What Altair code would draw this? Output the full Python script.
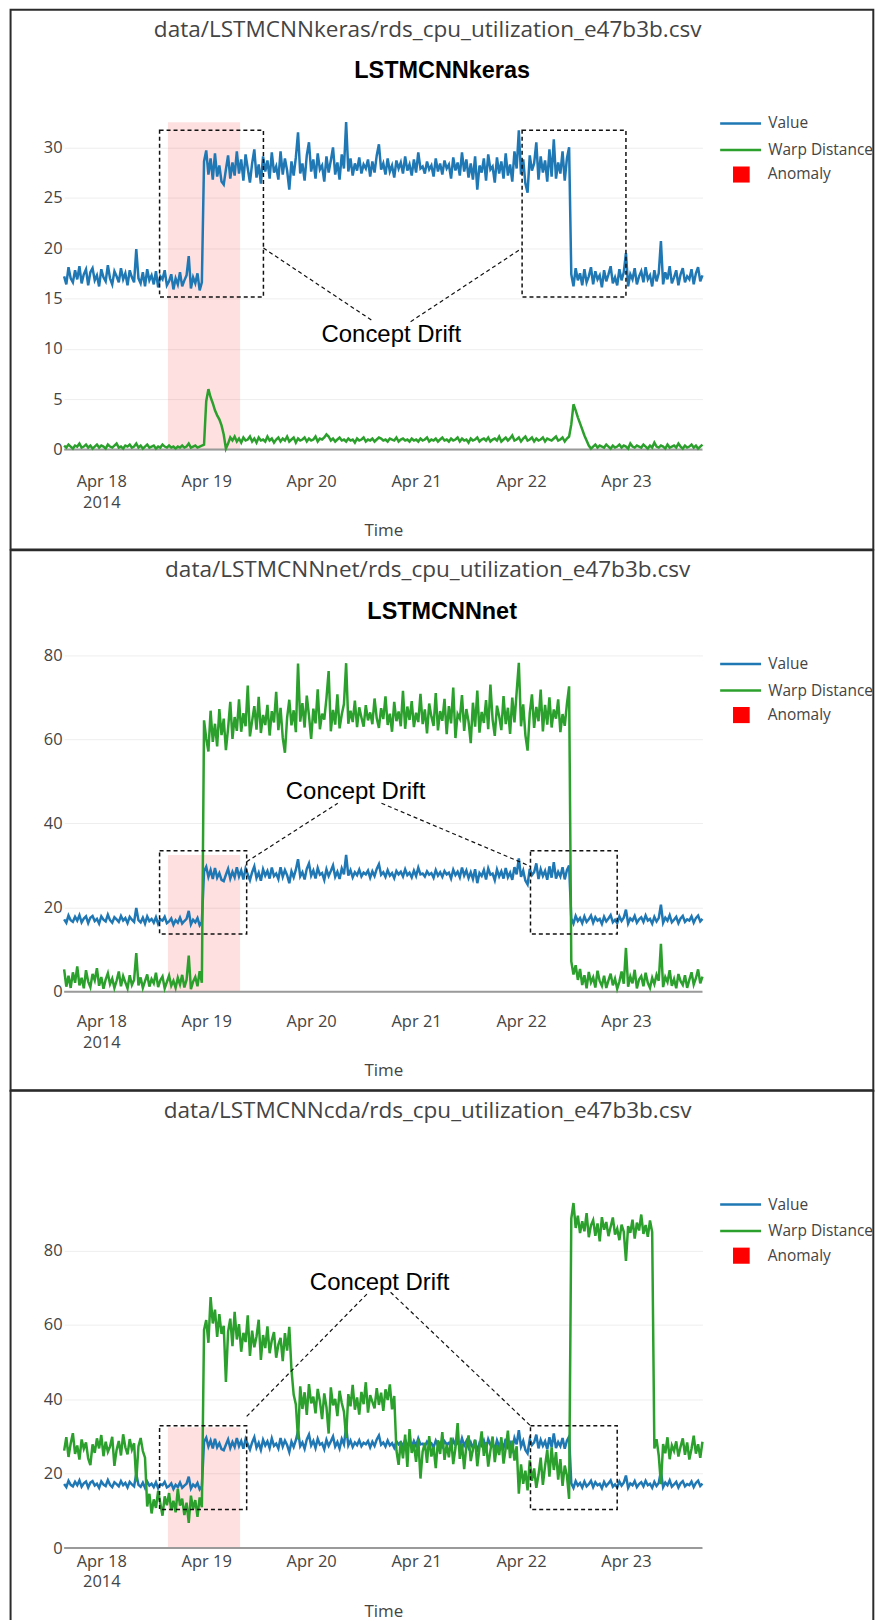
import altair as alt
import pandas as pd

# CPU utilisation series, one reading every 30 minutes from 2014-04-17 15:30
SERIES_START = "2014-04-17 15:30"
SERIES_STEP = "30min"

value = [
    17.2, 16.4, 18.1, 17.0, 16.6, 17.8, 16.9, 18.2, 16.5, 17.4, 17.9, 16.3, 17.6, 18.0, 16.8, 17.3,
    16.2, 17.9, 17.1, 16.7, 18.3, 17.0, 16.4, 17.7, 17.2, 16.6, 18.0, 16.9, 17.5, 16.3, 17.8, 17.1,
    16.6, 19.9, 17.0, 16.5, 17.6, 16.2, 17.9, 16.8, 17.3, 16.4, 17.7, 16.1, 17.2, 16.9, 17.8, 16.3,
    16.7, 17.4, 15.9, 17.0, 16.4, 17.6, 16.2, 16.8, 17.3, 19.2, 16.0, 17.1, 16.5, 17.5, 15.8, 16.6,
    28.6, 29.7, 27.3, 28.9, 26.8, 29.4, 27.1, 28.2, 26.6, 26.3, 27.8, 29.2, 26.9, 28.5, 27.2, 29.6,
    27.4, 28.8, 26.7, 29.3, 27.9, 26.5, 28.4, 29.8, 27.0, 28.3, 26.4, 29.1, 27.6, 28.7, 26.9, 29.5,
    27.5, 28.1, 26.8, 29.6, 27.3, 28.9, 27.7, 25.8, 28.6, 27.2, 29.0, 31.5, 27.4, 28.4, 26.7, 29.2,
    30.5, 27.6, 28.8, 26.9, 29.4, 27.8, 28.2, 26.6, 29.1, 27.5, 28.7, 30.0, 27.3, 28.5, 26.8, 29.3,
    27.9, 32.5, 27.6, 28.9, 27.2, 28.4, 27.7, 29.0, 27.4, 28.3, 27.9, 28.8, 27.1, 28.6, 27.5, 29.2,
    30.3, 27.8, 28.4, 27.3, 28.9, 27.6, 28.2, 27.0, 28.7, 27.9, 28.5, 27.4, 29.1, 27.7, 28.3, 27.2,
    28.8, 27.5, 29.5, 27.9, 28.1, 27.4, 28.6, 27.8, 28.2, 27.1, 28.9, 27.6, 28.4, 27.3, 28.7, 27.9,
    28.3, 26.9, 29.0, 27.7, 28.5, 27.2, 29.5, 27.6, 28.8, 27.0, 28.4, 26.8, 29.1, 25.8, 28.2, 27.5,
    28.9, 26.7, 29.3, 27.8, 28.1, 26.5, 29.0, 27.4, 28.6, 26.9, 29.4, 27.2, 28.3, 26.6, 29.6, 27.9,
    31.7, 27.3, 28.8, 26.4, 25.5, 29.2, 27.7, 28.4, 30.5, 26.8, 29.1, 27.5, 28.7, 26.6, 29.8, 27.1,
    30.8, 26.9, 28.5, 27.4, 29.6, 26.7, 28.9, 30.0,
    17.4, 16.2, 18.0, 16.8, 17.5, 16.3, 17.9, 16.6, 17.2, 18.1, 16.4, 17.7, 16.9, 17.3, 16.1, 17.8,
    16.7, 17.4, 18.2, 16.5, 17.1, 16.3, 17.9, 16.8, 17.6, 19.5, 16.2, 17.4, 16.9, 18.0, 16.4, 17.2,
    17.7, 16.6, 18.1, 16.9, 17.3, 16.2, 17.8, 16.7, 17.5, 20.7, 16.4, 17.6, 16.9, 18.2, 16.5, 17.1,
    17.8, 16.3, 17.4, 18.0, 16.6, 17.2, 16.9, 17.9, 16.4, 17.5, 18.1, 16.7, 17.3,
]

warp_keras = [
    0.4, 0.2, 0.5, 0.3, 0.1, 0.4, 0.3, 0.6, 0.2, 0.3, 0.5, 0.2, 0.4, 0.1, 0.3, 0.5,
    0.2, 0.4, 0.3, 0.1, 0.5, 0.3, 0.2, 0.4, 0.6, 0.2, 0.3, 0.1, 0.4, 0.3, 0.5, 0.2,
    0.3, 0.6, 0.2, 0.4, 0.1, 0.3, 0.5, 0.2, 0.3, 0.4, 0.1, 0.3, 0.2, 0.5, 0.3, 0.2,
    0.4, 0.2, 0.3, 0.1, 0.3, 0.2, 0.4, 0.2, 0.3, 0.6, 0.2, 0.3, 0.4, 0.2, 0.3, 0.4,
    0.5, 4.8, 6.0, 5.2, 4.6, 3.9, 3.4, 3.0, 2.4, 1.5, 0.1, 0.6, 1.2, 0.9, 1.3, 0.8,
    1.1, 0.7, 1.2, 0.9, 1.0, 1.3, 0.8, 1.1, 0.7, 1.2, 0.9, 1.0, 0.8, 1.3, 0.9, 1.1,
    0.7, 1.0, 1.2, 0.8, 1.1, 0.9, 1.3, 0.8, 1.0, 1.2, 0.7, 1.1, 0.9, 1.0, 1.2, 0.8,
    1.1, 0.9, 1.0, 1.3, 0.8, 1.1, 1.0, 1.2, 1.5, 1.3, 0.9, 1.1, 0.8, 1.0, 1.2, 0.9,
    1.0, 0.8, 1.1, 0.9, 1.0, 0.7, 1.1, 0.9, 1.0, 1.2, 0.8, 1.0, 0.9, 1.1, 0.8, 1.0,
    1.2, 1.1, 0.9, 1.0, 0.8, 1.1, 1.0, 0.9, 1.2, 0.8, 1.0, 1.1, 0.9, 1.0, 0.8, 1.1,
    0.9, 1.0, 0.8, 1.1, 0.9, 1.0, 1.2, 0.8, 1.0, 0.9, 1.1, 0.8, 1.0, 1.2, 0.9, 1.0,
    0.8, 1.1, 0.9, 1.0, 1.2, 0.8, 1.1, 0.9, 1.0, 0.7, 1.1, 0.9, 1.0, 1.2, 0.8, 1.0,
    1.1, 0.9, 1.2, 0.8, 1.0, 1.1, 0.9, 1.3, 0.8, 1.0, 1.2, 0.9, 1.1, 1.4, 0.9, 1.0,
    1.2, 0.8, 1.1, 1.3, 0.9, 1.0, 1.2, 0.8, 1.1, 0.9, 1.0, 1.2, 0.8, 1.1, 1.0, 0.9,
    1.1, 1.3, 0.9, 1.0, 1.2, 0.8, 1.1, 1.3,
    2.5, 4.5, 3.9, 3.2, 2.6, 2.0, 1.4, 0.9, 0.4, 0.1, 0.3, 0.5, 0.2, 0.4, 0.3, 0.2,
    0.5, 0.3, 0.1, 0.4, 0.2, 0.3, 0.5, 0.2, 0.4, 0.3, 0.1, 0.6, 0.3, 0.2, 0.4, 0.3,
    0.2, 0.5, 0.3, 0.1, 0.4, 0.2, 0.7, 0.3, 0.2, 0.4, 0.3, 0.1, 0.5, 0.2, 0.3, 0.4,
    0.2, 0.6, 0.3, 0.1, 0.4, 0.2, 0.3, 0.5, 0.2, 0.4, 0.1, 0.3, 0.5,
]

warp_net = [
    5.3, 1.2, 3.8, 0.9, 4.6, 2.1, 6.0, 1.5, 3.3, 0.8, 5.1, 2.4, 1.1, 4.2, 2.7, 5.6,
    1.4, 3.5, 0.7, 2.9, 4.4, 1.8, 3.1, 0.9, 2.6, 4.8, 1.3, 3.7, 2.2, 0.8, 3.9, 1.6,
    2.8, 9.2, 1.5, 3.4, 0.9, 2.5, 4.1, 1.2, 3.0, 2.0, 4.5, 1.1, 2.7, 3.6, 0.8, 2.3,
    3.8, 1.4, 2.6, 0.9, 3.3, 1.7, 4.0, 1.0, 2.8, 8.6, 0.6, 2.4, 3.5, 1.3, 4.9, 2.1,
    64.5, 60.2, 57.1, 66.8, 59.4, 63.7, 58.3, 67.2, 61.0, 64.9, 57.4, 62.6, 68.9, 60.1, 65.3, 62.0,
    69.5, 61.8, 66.2, 63.1, 72.8, 60.7, 64.4, 67.9, 62.3, 70.1, 61.5, 65.8, 63.4, 68.2, 60.9, 66.7,
    64.0, 71.3, 62.2, 67.5, 60.4, 56.8, 65.1, 69.4, 63.3, 66.9, 61.7, 78.0, 64.2, 68.6, 62.8, 70.4,
    65.7, 60.1, 67.3, 63.8, 71.9, 62.4, 66.1, 64.7, 69.8, 76.2, 61.9, 67.0, 63.5, 70.7, 62.6, 65.9,
    68.4, 78.1, 63.7, 66.8, 64.1, 69.2, 62.9, 67.6, 65.2, 63.0, 68.1, 64.5, 66.4, 63.6, 69.7, 65.0,
    62.7, 67.4, 64.8, 70.2, 63.4, 66.1, 61.8, 68.9, 64.3, 66.6, 63.1, 71.5, 62.5, 67.8, 64.6, 69.1,
    62.9, 66.3, 64.1, 70.8, 63.6, 67.1, 61.4, 68.5, 65.4, 63.2, 71.0, 62.1, 66.7, 64.4, 69.6, 61.2,
    67.9, 63.8, 72.3, 60.3, 66.0, 64.9, 70.5, 62.0, 67.2, 64.2, 59.1, 68.7, 63.0, 71.6, 61.6, 66.5,
    63.9, 69.3, 62.4, 73.0, 64.7, 60.8, 68.0, 65.5, 62.2, 70.3, 63.6, 67.5, 61.3, 69.9, 64.0, 71.2,
    78.2, 63.1, 68.3, 61.0, 57.3, 66.2, 70.7, 62.7, 67.7, 64.3, 71.8, 61.9, 68.2, 63.5, 70.0, 62.8,
    67.1, 64.9, 69.5, 61.7, 66.0, 63.2, 68.4, 72.6,
    7.2, 4.1, 6.3, 2.8, 5.4, 1.6, 3.9, 0.8, 4.7, 2.2, 3.4, 1.0, 5.0, 2.5, 1.4, 3.8,
    0.9, 2.7, 4.3, 1.5, 3.1, 0.7, 2.4, 4.8, 1.9, 10.4, 1.2, 3.6, 2.0, 5.2, 0.8, 2.9,
    3.7, 1.3, 4.5, 2.1, 0.9, 3.3, 1.8, 4.0, 2.6, 11.4, 1.1, 3.5, 2.3, 5.1, 1.4, 3.0,
    0.8, 4.2, 2.5, 1.6, 3.9, 0.9, 2.8, 4.6, 1.7, 3.2, 5.3, 2.0, 3.6,
]

warp_cda = [
    26.2, 29.8, 24.5, 28.1, 30.9, 25.3, 27.6, 23.8, 29.2, 26.7, 28.4, 24.1, 22.3, 27.9, 25.6, 29.5,
    26.8, 30.4, 24.7, 28.6, 25.9, 27.3, 29.9, 22.1, 26.4, 28.8, 24.9, 30.6, 27.1, 25.2, 29.3, 26.5,
    28.2, 17.9, 27.4, 29.6, 26.1, 24.3, 11.2, 14.6, 9.3, 13.1, 10.8, 15.4, 12.0, 8.7, 13.9, 11.5,
    14.8, 10.2, 12.7, 9.6, 15.9, 11.4, 13.3, 8.9, 12.2, 6.8, 14.1, 10.5, 12.9, 8.4, 13.6, 11.0,
    58.7, 61.3, 55.2, 67.5, 60.4, 64.1, 56.8, 62.9, 57.6, 59.8, 44.7, 58.2, 61.7, 54.3, 63.5, 56.1,
    60.2, 52.8, 57.9, 55.4, 62.6, 51.7, 58.5, 54.0, 56.9, 61.4, 50.6, 57.3, 53.8, 59.6, 52.4, 55.9,
    58.1, 51.2, 54.7, 56.5, 50.3, 57.8, 53.1, 59.5, 47.9, 41.3, 38.6, 29.2, 43.5, 37.4, 41.9, 35.8,
    44.1, 38.9, 40.7, 36.2, 42.8, 39.5, 34.7, 41.6, 37.9, 30.8, 43.2, 38.4, 40.1, 35.5, 42.3, 39.0,
    36.7, 29.6, 41.4, 38.1, 43.9, 37.2, 40.5, 35.9, 42.0, 38.7, 44.6, 36.4, 41.1, 39.3, 37.6, 43.0,
    38.5, 41.8, 36.9, 42.7, 39.8, 44.0, 37.3, 40.9, 26.3, 22.4, 28.7, 24.1, 30.5, 21.8, 32.0, 25.6,
    27.9, 23.2, 29.4, 18.7, 26.0, 28.3, 22.9, 30.1, 24.6, 27.2, 21.5, 29.0, 25.3, 31.2, 23.7, 27.8,
    24.4, 29.7, 22.6, 26.9, 33.6, 24.0, 28.1, 21.2, 27.5, 30.3, 23.4, 26.6, 29.1, 22.0, 27.0, 31.4,
    24.8, 28.5, 21.9, 26.2, 30.0, 23.1, 27.7, 25.0, 29.8, 22.7, 26.8, 31.6, 24.2, 28.9, 23.5, 27.4,
    14.6, 22.5, 17.3, 20.8, 15.5, 23.6, 18.1, 21.4, 16.2, 19.7, 24.3, 17.0, 22.1, 26.4, 19.2, 27.1,
    21.0, 25.8, 18.4, 23.9, 16.7, 22.2, 19.5, 13.2,
    88.6, 92.8, 86.1, 89.4, 84.7, 87.9, 85.2, 90.1, 83.6, 86.8, 88.2, 84.0, 87.3, 82.5, 89.0, 85.6,
    87.7, 83.9, 86.4, 88.9, 84.3, 85.9, 82.8, 87.0, 85.1, 77.2, 86.6, 84.8, 88.3, 83.2, 87.5, 85.4,
    89.7, 84.5, 86.9, 83.7, 88.1, 85.0, 26.8, 29.3, 24.9, 17.2, 28.0, 25.5, 29.8, 23.9, 27.6, 26.1,
    28.7, 24.6, 27.3, 29.5, 25.1, 28.4, 23.8, 26.7, 30.2, 25.4, 27.9, 24.3, 28.6,
]

series_names = ["Value", "Warp Distance"]
anomaly_name = "Anomaly"
anomaly_start = "2014-04-18 15:15"
anomaly_end = "2014-04-19 07:45"

file_names = [
    "data/LSTMCNNkeras/rds_cpu_utilization_e47b3b.csv",
    "data/LSTMCNNnet/rds_cpu_utilization_e47b3b.csv",
    "data/LSTMCNNcda/rds_cpu_utilization_e47b3b.csv",
]
model_names = ["LSTMCNNkeras", "LSTMCNNnet", ""]

x_tick_days = [18, 19, 20, 21, 22, 23]
y_ticks_keras = [0, 5, 10, 15, 20, 25, 30]
y_ticks_net = [0, 20, 40, 60, 80]
y_ticks_cda = [0, 20, 40, 60, 80]

# "Concept Drift" call-outs in data units: boxes (t0, t1, v0, v1),
# leader lines (t0, v0, t1, v1) and the label anchor (t, v)
drift_label = "Concept Drift"
boxes_keras = [("2014-04-18 13:20", "2014-04-19 13:05", 15.15, 31.7),
               ("2014-04-22 00:15", "2014-04-23 00:00", 15.15, 31.7)]
links_keras = [("2014-04-19 13:05", 20.0, "2014-04-20 14:20", 12.7),
               ("2014-04-20 22:45", 12.7, "2014-04-22 00:15", 20.0)]
anchor_keras = ("2014-04-20 18:20", 11.4)

boxes_net = [("2014-04-18 13:20", "2014-04-19 09:15", 13.7, 33.5),
             ("2014-04-22 02:10", "2014-04-22 22:00", 13.7, 33.5)]
links_net = [("2014-04-19 09:15", 30.9, "2014-04-20 06:05", 44.8),
             ("2014-04-20 16:05", 44.8, "2014-04-22 02:10", 29.8)]
anchor_net = ("2014-04-20 10:10", 47.5)

boxes_cda = [("2014-04-18 13:20", "2014-04-19 09:15", 10.4, 32.9),
             ("2014-04-22 02:10", "2014-04-22 22:00", 10.4, 32.9)]
links_cda = [("2014-04-19 09:15", 35.4, "2014-04-20 13:10", 68.8),
             ("2014-04-20 18:10", 68.8, "2014-04-22 02:10", 32.9)]
anchor_cda = ("2014-04-20 15:40", 71.2)

FONT = "Open Sans"
GREY = "#444444"
FRAME = "#2b2b2b"
PLOT_W = 640
ONE_ROW = pd.DataFrame({"k": [0]})


def y_extent(series, shade_top):
    """Data range padded by 5%, widened to hold the shaded window."""
    lo = min(min(s) for s in series)
    hi = max(max(s) for s in series)
    pad = 0.05 * (hi - lo)
    return [min(lo - pad, 0.0), max(hi + pad, shade_top)]


def frame_rule(x, x2, y, y2):
    return alt.Chart(ONE_ROW).mark_rule(color=FRAME, strokeWidth=2).encode(
        x=alt.value(x), x2=alt.value(x2), y=alt.value(y), y2=alt.value(y2)
    )


def build_panel(file_name, model_name, warp, y_ticks, boxes, links, anchor,
                plot_h, label_pad, line_h, title_pad, closed):
    assert len(warp) == len(value)
    times = pd.date_range(SERIES_START, periods=len(value), freq=SERIES_STEP)
    lines = pd.concat(
        [pd.DataFrame({"time": times, "series": name, "v": vals})
         for name, vals in zip(series_names, [value, warp])],
        ignore_index=True,
    )
    shade_top = max(value)
    domain = y_extent([value, warp], shade_top)

    x_axis = alt.Axis(
        title="Time",
        values=[alt.DateTime(year=2014, month=4, date=d) for d in x_tick_days],
        labelExpr="date(datum.value) == 18 ? [timeFormat(datum.value, '%b %d'), "
                  "timeFormat(datum.value, '%Y')] : timeFormat(datum.value, '%b %d')",
        labelFont=FONT, labelFontSize=16.5, labelColor=GREY, labelLineHeight=line_h,
        labelPadding=label_pad, labelFlush=False, labelOverlap=False,
        ticks=False, tickSize=0, domain=False, grid=False,
        titleFont=FONT, titleFontSize=17, titleColor=GREY, titleFontWeight="normal",
        titlePadding=title_pad,
    )
    y_axis = alt.Axis(
        title=None, values=y_ticks,
        labelFont=FONT, labelFontSize=16.5, labelColor=GREY, labelPadding=2,
        ticks=False, tickSize=0, domain=False,
        grid=True, gridColor="#eeeeee", gridWidth=1,
    )
    y_scale = alt.Scale(domain=domain, nice=False, zero=False)

    def xe(field):
        return alt.X(field, axis=x_axis)

    def ye(field):
        return alt.Y(field, axis=y_axis, scale=y_scale)

    shade_df = pd.DataFrame({
        "start": [pd.Timestamp(anomaly_start)], "end": [pd.Timestamp(anomaly_end)],
        "low": [0.0], "high": [shade_top], "kind": [anomaly_name],
    })
    shade = alt.Chart(shade_df).mark_rect(opacity=0.12).encode(
        x=xe("start:T"), x2="end:T",
        y=ye("low:Q"), y2="high:Q",
        fill=alt.Fill(
            "kind:N",
            scale=alt.Scale(domain=[anomaly_name], range=["#ff0000"]),
            legend=alt.Legend(
                orient="none", legendX=670.5, legendY=60.7, title=None,
                symbolType="square", symbolSize=279, symbolStrokeWidth=0,
                symbolOpacity=1, clipHeight=16, labelOffset=18, padding=0,
                labelFont=FONT, labelFontSize=15.5, labelColor=GREY, labelLimit=200,
            ),
        ),
    )

    zero = alt.Chart(pd.DataFrame({"v": [0.0]})).mark_rule(
        color="#9a9a9a", strokeWidth=2
    ).encode(y=ye("v:Q"))

    line = alt.Chart(lines).mark_line(strokeWidth=2.5).encode(
        x=xe("time:T"),
        y=ye("v:Q"),
        color=alt.Color(
            "series:N",
            scale=alt.Scale(domain=series_names, range=["#1f77b4", "#2ca02c"]),
            legend=alt.Legend(
                orient="none", legendX=656.25, legendY=9.6, title=None,
                symbolType="stroke", symbolSize=1681, symbolStrokeWidth=2.5,
                clipHeight=16, rowPadding=9.6, labelOffset=5.75, padding=0,
                labelFont=FONT, labelFontSize=15.5, labelColor=GREY, labelLimit=200,
            ),
        ),
    )

    box_df = pd.DataFrame(boxes, columns=["t0", "t1", "v0", "v1"])
    box_df[["t0", "t1"]] = box_df[["t0", "t1"]].apply(pd.to_datetime)
    box = alt.Chart(box_df).mark_rect(
        filled=False, stroke="#111111", strokeWidth=1.5, strokeDash=[4, 3]
    ).encode(x=xe("t0:T"), x2="t1:T", y=ye("v0:Q"), y2="v1:Q")

    link_df = pd.DataFrame(links, columns=["t0", "v0", "t1", "v1"])
    link_df[["t0", "t1"]] = link_df[["t0", "t1"]].apply(pd.to_datetime)
    link = alt.Chart(link_df).mark_rule(
        color="#111111", strokeWidth=1.2, strokeDash=[4, 3]
    ).encode(x=xe("t0:T"), x2="t1:T", y=ye("v0:Q"), y2="v1:Q")

    label_df = pd.DataFrame({"t": [pd.Timestamp(anchor[0])], "v": [anchor[1]],
                             "text": [drift_label]})
    label = alt.Chart(label_df).mark_text(
        font="Liberation Sans", fontSize=24, color="black",
        align="center", baseline="middle",
    ).encode(x=xe("t:T"), y=ye("v:Q"), text="text:N")

    layers = [shade, zero, line, box, link, label]

    heading = alt.Chart(pd.DataFrame({"text": [file_name]})).mark_text(
        font=FONT, fontSize=22.6, color=GREY, align="center", baseline="middle"
    ).encode(text="text:N", x=alt.value(364.5), y=alt.value(-76.5))
    layers.append(heading)

    if model_name:
        sub = alt.Chart(pd.DataFrame({"text": [model_name]})).mark_text(
            font="Liberation Sans", fontSize=23.5, fontWeight="bold", color="black",
            align="center", baseline="middle",
        ).encode(text="text:N", x=alt.value(379), y=alt.value(-35))
        layers.append(sub)

    # panel border: closed box, or open at the bottom edge of the page
    left, right, top = -53.7, 811.3, -96.4
    if closed:
        layers.append(
            alt.Chart(ONE_ROW).mark_rect(filled=False, stroke=FRAME, strokeWidth=2).encode(
                x=alt.value(left), x2=alt.value(right),
                y=alt.value(top), y2=alt.value(plot_h + 84.9),
            )
        )
    else:
        bottom = plot_h + 72
        layers += [
            frame_rule(left - 1, right + 1, top, top),
            frame_rule(left, left, top, bottom),
            frame_rule(right, right, top, bottom),
        ]

    return alt.layer(*layers).properties(width=PLOT_W, height=plot_h)


p1 = build_panel(file_names[0], model_names[0], warp_keras, y_ticks_keras,
                 boxes_keras, links_keras, anchor_keras, 360, 8.5, 21, 11.5, True)
p2 = build_panel(file_names[1], model_names[1], warp_net, y_ticks_net,
                 boxes_net, links_net, anchor_net, 360, 8.5, 21, 11.5, True)
p3 = build_panel(file_names[2], model_names[2], warp_cda, y_ticks_cda,
                 boxes_cda, links_cda, anchor_cda, 362, 5, 21, 13, False)

chart = (
    alt.vconcat(p1, p2, p3, spacing=-2)
    .resolve_scale(x="independent", y="independent",
                   color="independent", fill="independent")
    .resolve_legend(color="independent", fill="independent")
    .properties(padding={"left": 8.3, "top": 6, "right": 0, "bottom": 0},
                background="white")
    .configure_view(stroke=None)
)

chart.save("out.html", embed_options={"renderer": "svg", "actions": False})
